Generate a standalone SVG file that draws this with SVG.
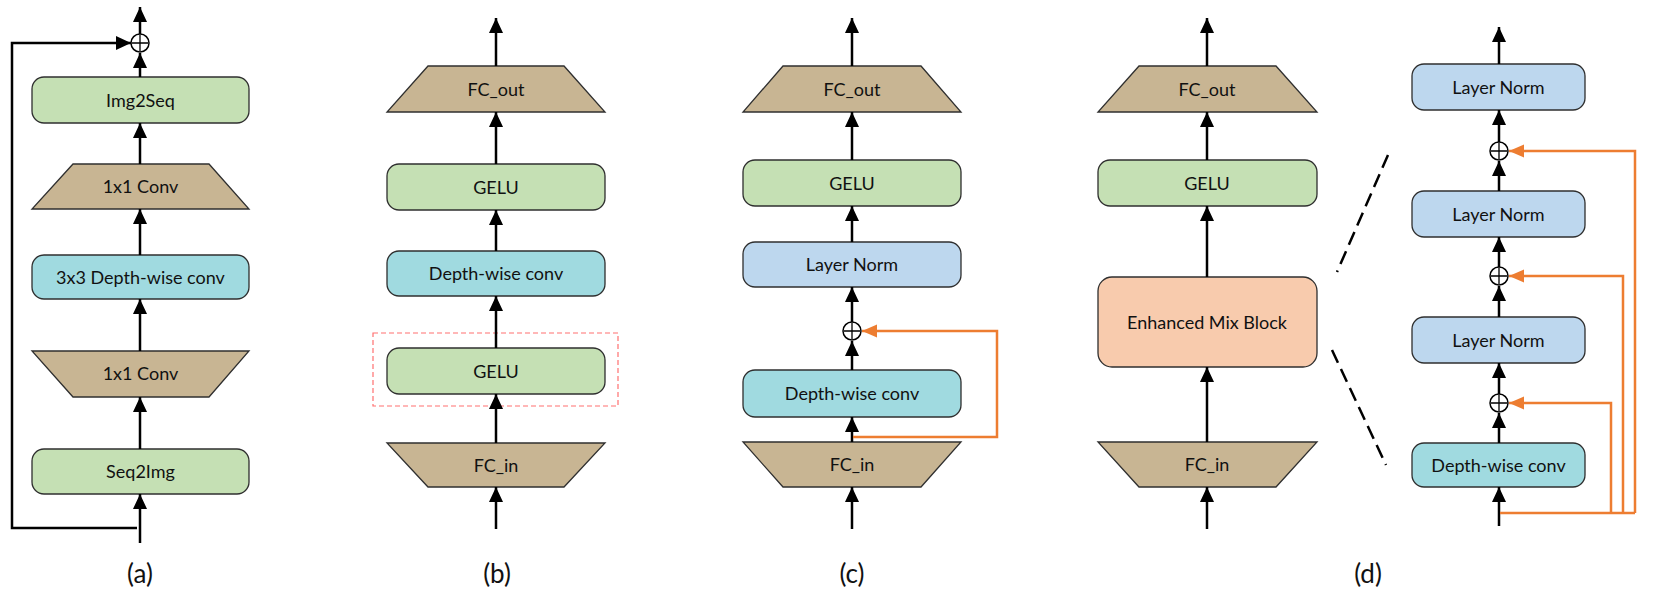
<svg xmlns="http://www.w3.org/2000/svg" width="1660" height="589" viewBox="0 0 1660 589">
<defs>
<marker id="ah" markerUnits="userSpaceOnUse" markerWidth="16" markerHeight="16" viewBox="0 0 16 16" refX="15" refY="8" orient="auto">
<path d="M0,1 L15,8 L0,15 Z" fill="#000"/>
</marker>
<marker id="ao" markerUnits="userSpaceOnUse" markerWidth="16" markerHeight="16" viewBox="0 0 16 16" refX="15" refY="8" orient="auto">
<path d="M0,1.5 L15,8 L0,14.5 Z" fill="#ED7D31"/>
</marker>
<g id="plus">
<circle cx="0" cy="0" r="9" fill="#fff" stroke="#000" stroke-width="1.5"/>
<path d="M-8,0 H8 M0,-8 V8" stroke="#000" stroke-width="1.3"/>
</g>
</defs>
<style>
.box{stroke:#2f2f2f;stroke-width:1.3}
.green{fill:#C5E0B4}
.teal{fill:#A0DAE0}
.tan{fill:#C8B593}
.blue{fill:#BDD7EE}
.peach{fill:#F8CBAD}
.t{font-family:Lato,"Liberation Sans",sans-serif;font-size:18px;fill:#111;text-anchor:middle}
.lbl{font-family:Lato,"Liberation Sans",sans-serif;font-size:26px;fill:#111;text-anchor:middle}
.ar{stroke:#000;stroke-width:2.5;fill:none;marker-end:url(#ah)}
.ln{stroke:#000;stroke-width:2.5;fill:none}
.or{stroke:#ED7D31;stroke-width:2.5;fill:none}
.ora{stroke:#ED7D31;stroke-width:2.5;fill:none;marker-end:url(#ao)}
.dash{stroke:#000;stroke-width:2.5;stroke-dasharray:14,7;fill:none}
</style>
<rect width="1660" height="589" fill="#fff"/>

<!-- Panel (a) -->
<g id="a-img2seq"><rect class="box green" x="32" y="77" width="217" height="46" rx="12"/><text class="t" x="140.5" y="106.5">Img2Seq</text></g>
<g id="a-conv1"><path class="box tan" d="M73,164 H209 L249,209 H32 Z"/><text class="t" x="140.5" y="193">1x1 Conv</text></g>
<g id="a-dwconv"><rect class="box teal" x="32" y="255" width="217" height="44" rx="12"/><text class="t" x="140.5" y="283.5">3x3 Depth-wise conv</text></g>
<g id="a-conv2"><path class="box tan" d="M32,351 H249 L209,397 H73 Z"/><text class="t" x="140.5" y="380">1x1 Conv</text></g>
<g id="a-seq2img"><rect class="box green" x="32" y="449" width="217" height="45" rx="12"/><text class="t" x="140.5" y="478">Seq2Img</text></g>
<g id="a-add"><use href="#plus" x="140" y="43"/></g>
<text class="lbl" x="140" y="583">(a)</text>

<!-- Panel (b) -->
<g id="b-fcout"><path class="box tan" d="M428,66 H564 L605,112 H387 Z"/><text class="t" x="496" y="95.5">FC_out</text></g>
<g id="b-gelu1"><rect class="box green" x="387" y="164" width="218" height="46" rx="12"/><text class="t" x="496" y="193.5">GELU</text></g>
<g id="b-dwconv"><rect class="box teal" x="387" y="251" width="218" height="45" rx="12"/><text class="t" x="496" y="280">Depth-wise conv</text></g>
<g id="b-gelu2"><rect class="box green" x="387" y="348" width="218" height="46" rx="12"/><text class="t" x="496" y="377.5">GELU</text></g>
<g id="b-highlight"><rect x="373" y="333" width="245" height="73" fill="none" stroke="#FF7070" stroke-width="1.2" stroke-dasharray="5,3"/></g>
<g id="b-fcin"><path class="box tan" d="M387,443 H605 L564,487 H428 Z"/><text class="t" x="496" y="471.5">FC_in</text></g>
<text class="lbl" x="497" y="583">(b)</text>

<!-- Panel (c) -->
<g id="c-fcout"><path class="box tan" d="M783,66 H921 L961,112 H743 Z"/><text class="t" x="852" y="95.5">FC_out</text></g>
<g id="c-gelu"><rect class="box green" x="743" y="160" width="218" height="46" rx="12"/><text class="t" x="852" y="189.5">GELU</text></g>
<g id="c-ln"><rect class="box blue" x="743" y="242" width="218" height="45" rx="12"/><text class="t" x="852" y="271">Layer Norm</text></g>
<g id="c-add"><use href="#plus" x="852" y="331"/></g>
<g id="c-dwconv"><rect class="box teal" x="743" y="370" width="218" height="47" rx="12"/><text class="t" x="852" y="400">Depth-wise conv</text></g>
<g id="c-fcin"><path class="box tan" d="M743,442 H961 L921,487 H783 Z"/><text class="t" x="852" y="471">FC_in</text></g>
<text class="lbl" x="852" y="583">(c)</text>

<!-- Panel (d) left -->
<g id="d-fcout"><path class="box tan" d="M1139,66 H1276 L1317,112 H1098 Z"/><text class="t" x="1207" y="95.5">FC_out</text></g>
<g id="d-gelu"><rect class="box green" x="1098" y="160" width="219" height="46" rx="12"/><text class="t" x="1207" y="189.5">GELU</text></g>
<g id="d-emb"><rect class="box peach" x="1098" y="277" width="219" height="90" rx="14"/><text class="t" x="1207" y="328.5">Enhanced Mix Block</text></g>
<g id="d-fcin"><path class="box tan" d="M1098,442 H1317 L1276,487 H1139 Z"/><text class="t" x="1207" y="471">FC_in</text></g>

<!-- Panel (d) right -->
<g id="d-ln1"><rect class="box blue" x="1412" y="64" width="173" height="46" rx="12"/><text class="t" x="1498.5" y="93.5">Layer Norm</text></g>
<g id="d-add1"><use href="#plus" x="1499" y="151"/></g>
<g id="d-ln2"><rect class="box blue" x="1412" y="191" width="173" height="46" rx="12"/><text class="t" x="1498.5" y="220.5">Layer Norm</text></g>
<g id="d-add2"><use href="#plus" x="1499" y="276"/></g>
<g id="d-ln3"><rect class="box blue" x="1412" y="317" width="173" height="46" rx="12"/><text class="t" x="1498.5" y="346.5">Layer Norm</text></g>
<g id="d-add3"><use href="#plus" x="1499" y="403"/></g>
<g id="d-dwconv"><rect class="box teal" x="1412" y="443" width="173" height="44" rx="12"/><text class="t" x="1498.5" y="471.5">Depth-wise conv</text></g>
<text class="lbl" x="1368" y="583">(d)</text>

<!-- Connectors -->
<g id="connectors">
<!-- (a) -->
<path class="ar" d="M140,34 V7"/>
<path class="ar" d="M140,77 V53"/>
<path class="ar" d="M140,164 V123"/>
<path class="ar" d="M140,255 V209"/>
<path class="ar" d="M140,351 V299"/>
<path class="ar" d="M140,449 V397"/>
<path class="ar" d="M140,543 V494"/>
<path class="ar" d="M137,528 H12 V43 H131"/>
<!-- (b) -->
<path class="ar" d="M496,66 V18"/>
<path class="ar" d="M496,164 V112"/>
<path class="ar" d="M496,251 V210"/>
<path class="ar" d="M496,348 V296"/>
<path class="ar" d="M496,443 V394"/>
<path class="ar" d="M496,529 V487"/>
<!-- (c) -->
<path class="ar" d="M852,66 V18"/>
<path class="ar" d="M852,160 V112"/>
<path class="ar" d="M852,242 V206"/>
<path class="ar" d="M852,322 V287"/>
<path class="ar" d="M852,370 V341"/>
<path class="ar" d="M852,442 V417"/>
<path class="ar" d="M852,529 V487"/>
<path class="ora" d="M853,437 H997 V331 H862"/>
<!-- (d) left -->
<path class="ar" d="M1207,66 V18"/>
<path class="ar" d="M1207,160 V112"/>
<path class="ar" d="M1207,277 V206"/>
<path class="ar" d="M1207,442 V367"/>
<path class="ar" d="M1207,529 V487"/>
<path class="dash" d="M1388,155 L1337,272"/>
<path class="dash" d="M1332,350 L1386,465"/>
<!-- (d) right -->
<path class="ar" d="M1499,64 V27"/>
<path class="ar" d="M1499,142 V110"/>
<path class="ar" d="M1499,191 V161"/>
<path class="ar" d="M1499,267 V237"/>
<path class="ar" d="M1499,317 V286"/>
<path class="ar" d="M1499,394 V363"/>
<path class="ar" d="M1499,443 V413"/>
<path class="ar" d="M1499,526 V487"/>
<path class="or" d="M1500,513 H1635"/>
<path class="ora" d="M1611,513 V403 H1509"/>
<path class="ora" d="M1623,513 V276 H1509"/>
<path class="ora" d="M1635,513 V151 H1509"/>
</g>
</svg>
